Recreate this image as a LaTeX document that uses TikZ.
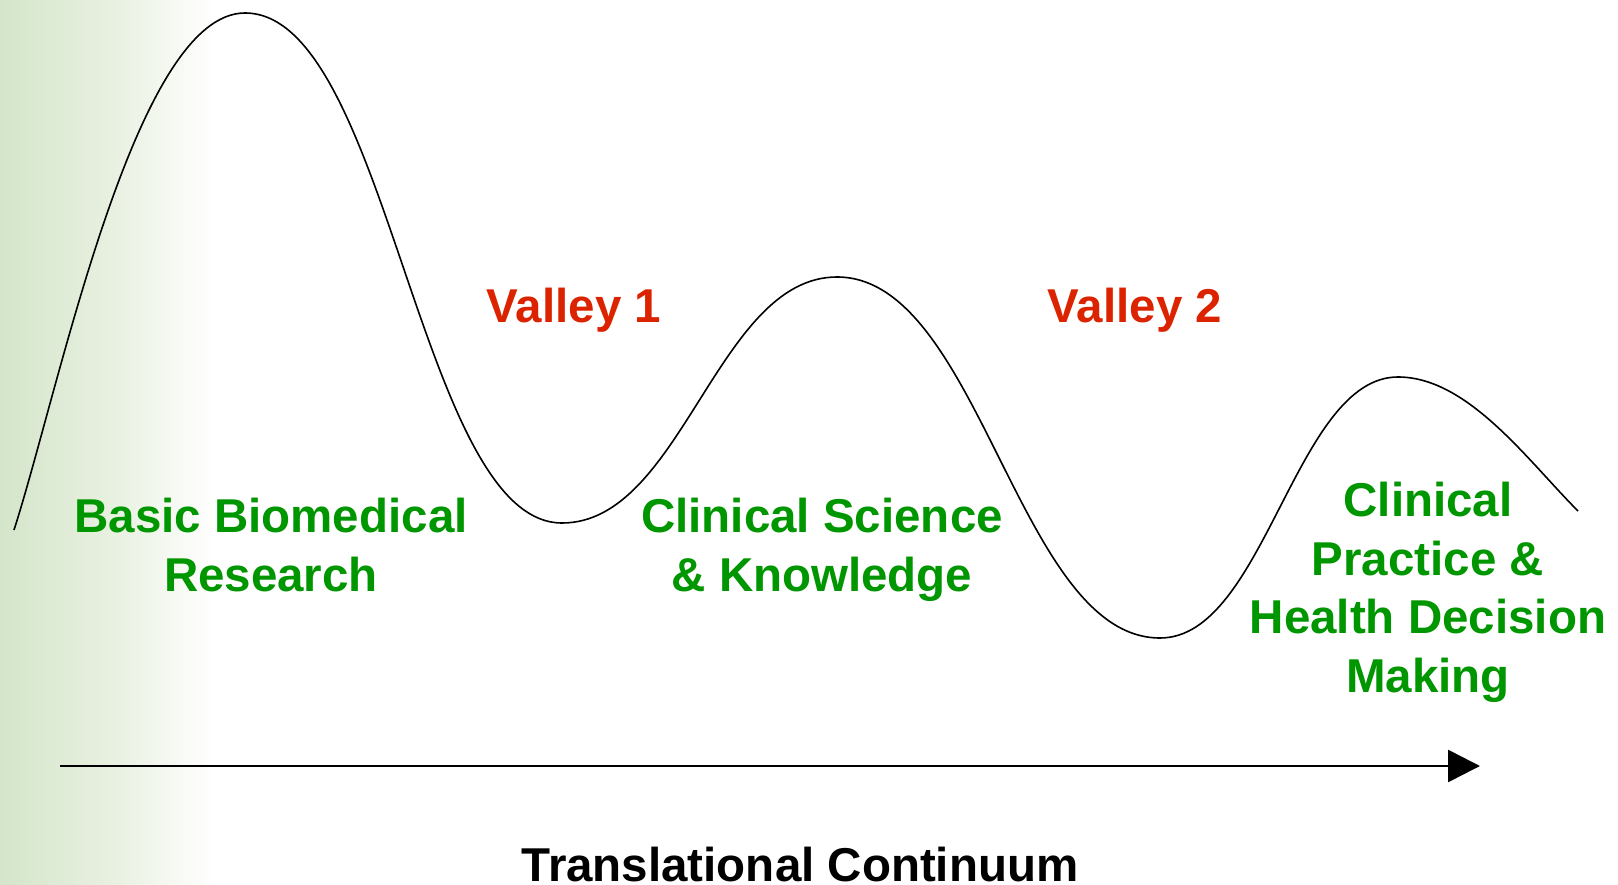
\documentclass[tikz,border=0pt]{standalone}
\usepackage{fontspec}
\setmainfont{Liberation Sans}
\usetikzlibrary{arrows.meta}
\definecolor{tgreen}{RGB}{0,150,0}
\definecolor{tred}{RGB}{220,35,0}
\definecolor{bggreen}{RGB}{212,229,202}
\definecolor{bgmid}{RGB}{232,240,224}
\tikzset{
  lbl/.style={anchor=base, align=center, inner sep=0pt, font=\bfseries\fontsize{47.5}{58.5}\selectfont},
  stage/.style={lbl, text=tgreen},
  valley/.style={lbl, text=tred},
  wave/.style={line width=1.6pt, black},
  axis/.style={line width=2.6pt, -{Triangle[length=32pt,width=32pt]}}
}
\begin{document}
\begin{tikzpicture}[x=1pt,y=-1pt]
\useasboundingbox (0,0) rectangle (1618,885);
\fill[white] (0,0) rectangle (1618,885);
\shade[left color=bggreen, right color=bgmid] (0,0) rectangle (110,885);
\shade[left color=bgmid, right color=white] (110,0) rectangle (215,885);
% curve
\coordinate (s) at (14,530);
\coordinate (p1) at (245,13);
\coordinate (v1) at (562,523);
\coordinate (p2) at (837,277);
\coordinate (v2) at (1160,638);
\coordinate (p3) at (1398,377);
\coordinate (e) at (1578,511);
\draw[wave] (s) .. controls (60,387) and (135,13) .. (p1)
  .. controls (388,13) and (419,523) .. (v1)
  .. controls (682,523) and (717,277) .. (p2)
  .. controls (980,277) and (1018,638) .. (v2)
  .. controls (1265,638) and (1295,377) .. (p3)
  .. controls (1468,377) and (1528,461) .. (e);
% labels (base = baseline of last line)
\node[stage] (bbr) at (271,591) {Basic Biomedical\\Research};
\node[stage] (csk) at (822,591) {Clinical Science\\\& Knowledge};
\node[stage] (cph) at (1428,692) {Clinical\\Practice \&\\Health Decision\\Making};
\node[valley] (val1) at (574,323) {Valley 1};
\node[valley] (val2) at (1135,323) {Valley 2};
% axis
\coordinate (a0) at (60,766);
\coordinate (a1) at (1480,766);
\draw[axis] (a0) -- (a1);
\node[lbl, text=black] (tc) at (800,881) {Translational Continuum};
\end{tikzpicture}
\end{document}
